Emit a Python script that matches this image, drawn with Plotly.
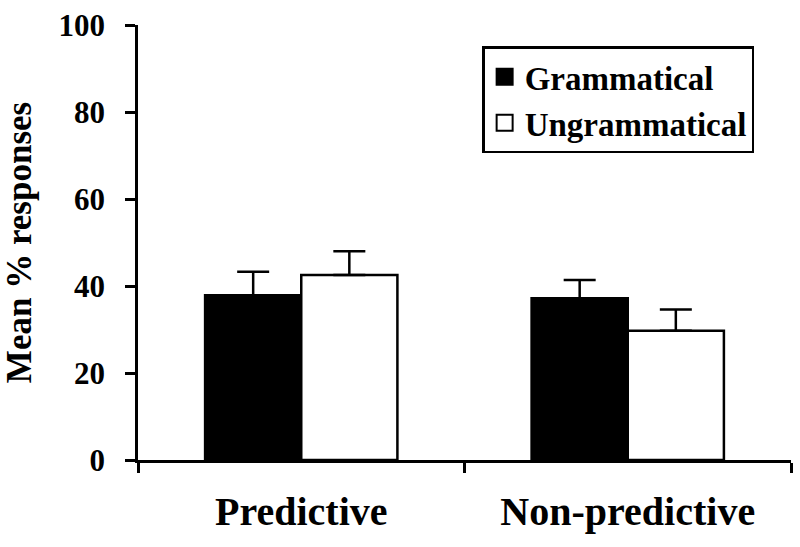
import plotly.graph_objects as go

categories = ["Predictive", "Non-predictive"]
series_names = ["Grammatical", "Ungrammatical"]
grammatical = [37.9, 37.2]
grammatical_err = [5.4, 4.2]
ungrammatical = [42.5, 29.7]
ungrammatical_err = [5.5, 4.9]
y_ticks = [0, 20, 40, 60, 80, 100]

FONT = "Liberation Serif"

fig = go.Figure()
fills = ["black", "white"]
vals = [grammatical, ungrammatical]
errs = [grammatical_err, ungrammatical_err]
for name, v, e, c in zip(series_names, vals, errs, fills):
    fig.add_trace(go.Bar(
        x=categories, y=v, name=name, showlegend=False,
        marker=dict(color=c, line=dict(color="black", width=2.5)),
        error_y=dict(type="data", array=e, arrayminus=[0] * len(e), symmetric=False,
                     color="black", thickness=2.5, width=16),
    ))
# legend entries
for i, (name, c) in enumerate(zip(series_names, fills)):
    fig.add_trace(go.Scatter(
        x=[None], y=[None], mode="markers", name=name, legendgroup=f"g{i}",
        marker=dict(symbol="square", size=20, color=c, line=dict(color="black", width=2)),
    ))

fig.update_layout(
    width=800, height=547,
    margin=dict(l=138, r=9, t=25, b=87, autoexpand=False),
    paper_bgcolor="white", plot_bgcolor="white",
    barmode="group", bargap=0.411, bargroupgap=0,
    font=dict(family=FONT, color="black"),
    legend=dict(
        x=0.527, y=0.951, xanchor="left", yanchor="top",
        bordercolor="black", borderwidth=2.5, bgcolor="white",
        font=dict(family=FONT, size=33, color="black", weight="bold"),
        tracegroupgap=0, itemwidth=30,
    ),
    xaxis=dict(
        type="category", range=[-0.5, 1.5], tickson="boundaries", automargin=False,
        ticks="outside", ticklen=10, tickwidth=2.5, tickcolor="black",
        showline=True, linewidth=2.5, linecolor="black", showgrid=False,
        tickfont=dict(family=FONT, size=40, color="black", weight="bold"),
        ticklabelstandoff=14,
    ),
    yaxis=dict(
        range=[0, 100], tickvals=y_ticks, ticktext=[str(t) for t in y_ticks],
        automargin=False,
        ticks="outside", ticklen=10, tickwidth=2.5, tickcolor="black",
        showline=True, linewidth=2.5, linecolor="black", showgrid=False, zeroline=False,
        tickfont=dict(family=FONT, size=31, color="black", weight="bold"),
        ticklabelstandoff=14,
        title=dict(text="Mean % responses", standoff=18,
                   font=dict(family=FONT, size=35, color="black", weight="bold")),
    ),
)

fig.write_html("out.html", config={"displayModeBar": False},
               post_script="document.body.style.margin='0';")
